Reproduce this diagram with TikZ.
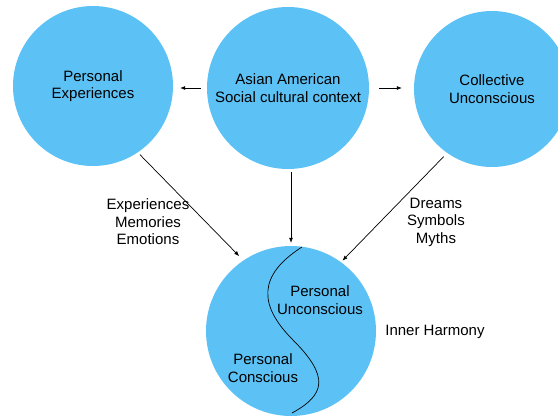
\documentclass[tikz,border=0pt]{standalone}
\usepackage{fontspec}
\setmainfont{Liberation Sans}
\usetikzlibrary{arrows.meta}
\definecolor{bubblecol}{RGB}{92,194,245}
\begin{document}
\begin{tikzpicture}[x=1pt,y=-1pt,
  bubble/.style={circle,fill=bubblecol,inner sep=0pt,align=center,font=\fontsize{15}{17.5}\selectfont},
  lbl/.style={align=center,font=\fontsize{15}{17.5}\selectfont},
  arr/.style={-{Latex[length=5pt,width=4pt]},line width=0.7pt}]
\useasboundingbox (0,0) rectangle (558,416);
\node [bubble,minimum size=160pt] (pers) at (93,86) {Personal\\Experiences};
\node [bubble,minimum size=162pt] (asian) at (288,88) {Asian American\\Social cultural context};
\node [bubble,minimum size=156pt] (coll) at (492,89) {Collective\\Unconscious};
\node [bubble,minimum size=170pt] (inner) at (291,331) {};
\node [lbl] (pu) at (320,300) {Personal\\Unconscious};
\node [lbl] (pc) at (263,368) {Personal\\Conscious};
\node [lbl] (ih) at (435,332) {Inner Harmony};
\node [lbl] (mem) at (148,222) {Experiences\\Memories\\Emotions};
\node [lbl] (sym) at (436,222) {Dreams\\Symbols\\Myths};
\draw [arr,shorten <=6pt,shorten >=7pt] (asian.west) -- (asian.west -| pers.east);
\draw [arr,shorten <=10pt,shorten >=12pt] (asian.east) -- (asian.east -| coll.west);
\draw [arr,shorten <=3pt,shorten >=3pt] (inner.north |- asian.south) -- (inner.north);
\draw [arr,shorten <=3pt,shorten >=6pt] (pers.-56) -- (inner.124);
\draw [arr,shorten <=5pt,shorten >=2pt] (coll.-125) -- (inner.54);
\draw [line width=0.7pt] (302,247) .. controls (258,275) and (258,305) .. (293,340)
  .. controls (330,377) and (325,395) .. (292,413);
\end{tikzpicture}
\end{document}
